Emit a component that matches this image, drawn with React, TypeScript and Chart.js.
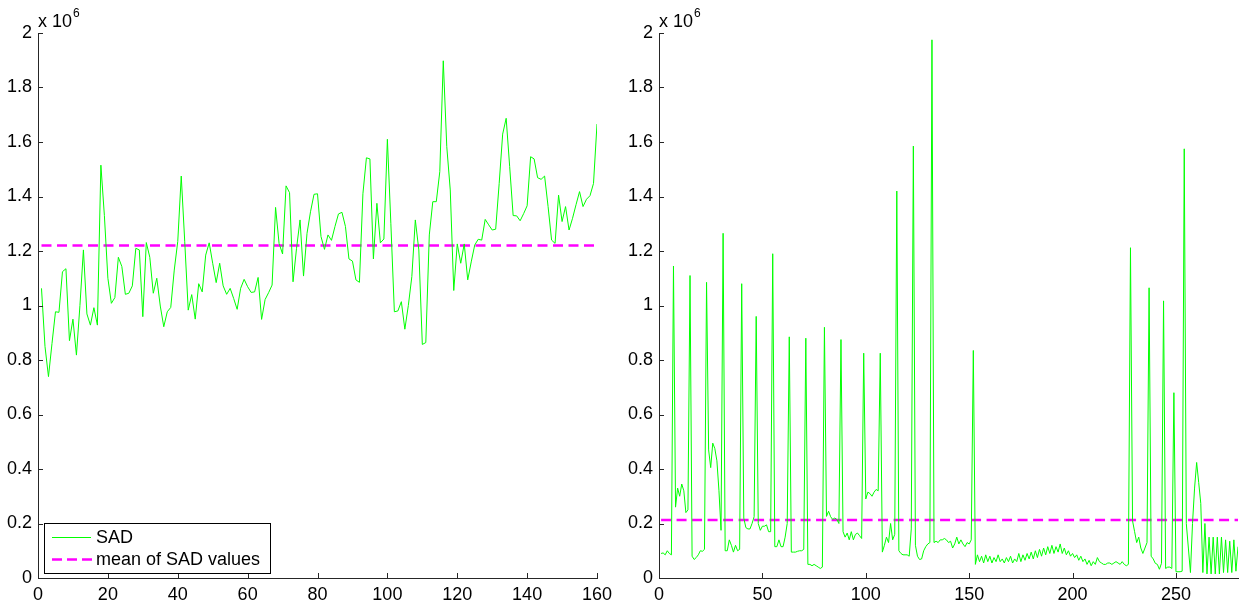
import React, { useEffect, useRef } from 'react';
import { Chart, registerables } from 'chart.js';

Chart.register(...registerables);

// ---------- data (values in units of 10^6) ----------
const sadLeft: number[] = [
  1.063, 0.85, 0.739, 0.86, 0.977, 0.975, 1.124, 1.135, 0.871, 0.95,
  0.818, 1.0, 1.204, 0.969, 0.928, 0.992, 0.928, 1.515, 1.33, 1.1,
  1.008, 1.029, 1.177, 1.143, 1.041, 1.045, 1.072, 1.21, 1.204, 0.959,
  1.231, 1.177, 1.045, 1.1, 0.998, 0.922, 0.977, 0.993, 1.13, 1.235,
  1.475, 1.234, 0.983, 1.04, 0.95, 1.08, 1.05, 1.185, 1.23, 1.155,
  1.084, 1.155, 1.072, 1.041, 1.063, 1.026, 0.986, 1.063, 1.096, 1.069,
  1.048, 1.05, 1.103, 0.949, 1.022, 1.047, 1.075, 1.36, 1.228, 1.189,
  1.439, 1.414, 1.087, 1.21, 1.314, 1.108, 1.265, 1.344, 1.408, 1.41,
  1.253, 1.206, 1.259, 1.239, 1.29, 1.336, 1.342, 1.29, 1.171, 1.163,
  1.094, 1.085, 1.41, 1.542, 1.538, 1.171, 1.375, 1.23, 1.244, 1.61,
  1.3, 0.977, 0.98, 1.014, 0.913, 1.0, 1.106, 1.314, 1.204, 0.857,
  0.864, 1.259, 1.381, 1.381, 1.491, 1.898, 1.583, 1.424, 1.055, 1.226,
  1.155, 1.226, 1.094, 1.16, 1.222, 1.243, 1.24, 1.316, 1.296, 1.277,
  1.28, 1.448, 1.629, 1.687, 1.51, 1.33, 1.329, 1.311, 1.337, 1.366,
  1.546, 1.538, 1.469, 1.463, 1.475, 1.363, 1.24, 1.228, 1.405, 1.308,
  1.363, 1.277, 1.32, 1.37, 1.418, 1.363, 1.39, 1.403, 1.448, 1.666,
];

const sadRight: number[] = [
  // 1-10
  0.09, 0.092, 0.085, 0.1, 0.09, 0.085, 1.145, 0.26, 0.33, 0.3,
  // 11-20
  0.345, 0.32, 0.24, 0.25, 1.11, 0.08, 0.068, 0.075, 0.085, 0.1,
  // 21-30
  0.098, 0.105, 1.085, 0.47, 0.405, 0.495, 0.475, 0.43, 0.32, 0.175,
  // 31-40
  1.265, 0.1, 0.1, 0.14, 0.12, 0.095, 0.12, 0.1, 0.105, 1.08,
  // 41-50
  0.22, 0.185, 0.18, 0.18, 0.2, 0.225, 0.96, 0.2, 0.175, 0.19,
  // 51-60
  0.19, 0.195, 0.17, 0.17, 1.19, 0.115, 0.115, 0.14, 0.115, 0.115,
  // 61-70
  0.15, 0.2, 0.885, 0.095, 0.095, 0.095, 0.098, 0.1, 0.1, 0.105,
  // 71-80
  0.88, 0.05, 0.05, 0.045, 0.05, 0.045, 0.04, 0.035, 0.04, 0.92,
  // 81-90
  0.226, 0.245, 0.225, 0.215, 0.22, 0.215, 0.2, 0.875, 0.17, 0.15,
  // 91-100
  0.165, 0.14, 0.17, 0.14, 0.16, 0.165, 0.155, 0.145, 0.825, 0.29,
  // 101-110
  0.315, 0.31, 0.3, 0.315, 0.325, 0.32, 0.825, 0.095, 0.12, 0.15,
  // 111-120
  0.13, 0.2, 0.14, 0.16, 1.42, 0.1, 0.09, 0.085, 0.085, 0.085,
  // 121-130
  0.08, 0.18, 1.585, 0.12, 0.08, 0.068, 0.07, 0.1, 0.115, 0.125,
  // 131-140
  0.13, 1.975, 0.13, 0.135, 0.13, 0.14, 0.14, 0.145, 0.14, 0.13,
  // 141-150
  0.135, 0.11, 0.125, 0.15, 0.125, 0.14, 0.125, 0.115, 0.13, 0.125,
  // 151-160
  0.14, 0.835, 0.05, 0.085, 0.06, 0.08, 0.055, 0.085, 0.06, 0.08,
  // 161-170
  0.055, 0.075, 0.06, 0.085, 0.06, 0.07, 0.055, 0.075, 0.06, 0.08,
  // 171-180
  0.055, 0.07, 0.06, 0.09, 0.06, 0.085, 0.065, 0.09, 0.07, 0.095,
  // 181-190
  0.07, 0.1, 0.075, 0.105, 0.08, 0.11, 0.085, 0.115, 0.09, 0.12,
  // 191-200
  0.09, 0.115, 0.095, 0.125, 0.09, 0.11, 0.085, 0.1, 0.08, 0.09,
  // 201-210
  0.075, 0.085, 0.065, 0.08, 0.06, 0.07, 0.05, 0.065, 0.045, 0.06,
  // 211-220
  0.05, 0.075, 0.06, 0.055, 0.05, 0.05, 0.055, 0.055, 0.05, 0.055,
  // 221-230
  0.06, 0.055, 0.05, 0.06, 0.05, 0.045, 0.05, 1.212, 0.21, 0.17,
  // 231-240
  0.13, 0.15, 0.11, 0.09, 0.11, 0.13, 1.065, 0.08, 0.07, 0.054,
  // 241-250
  0.05, 0.032, 0.054, 1.017, 0.035, 0.04, 0.04, 0.035, 0.68, 0.023,
  // 251-260
  0.023, 0.023, 0.025, 1.575, 0.2, 0.11, 0.02, 0.2, 0.33, 0.424,
  // 261-270
  0.35, 0.274, 0.02, 0.2, 0.015, 0.15, 0.015, 0.15, 0.015, 0.15,
  // 271-280
  0.015, 0.15, 0.02, 0.14, 0.02, 0.135, 0.02, 0.14, 0.025, 0.115,
];

const meanLeft = 1.22;
const meanRight = 0.213;

const yTicks: number[] = [0, 0.2, 0.4, 0.6, 0.8, 1, 1.2, 1.4, 1.6, 1.8, 2];
const xTicksLeft: number[] = [0, 20, 40, 60, 80, 100, 120, 140, 160];
const xTicksRight: number[] = [0, 50, 100, 150, 200, 250];

const seriesLabel = 'SAD';
const meanLabel = 'mean of SAD values';
const exponentBase = 'x 10';
const exponentPower = '6';

// ---------- styling ----------
const FONT = '"Liberation Sans", Arial, Helvetica, sans-serif';
const GREEN = '#00ff00';
const MAGENTA = '#ff00ff';
const AXIS = '#262626';
const DASH = [10, 5.5];

type PanelCfg = {
  values: number[];
  mean: number;
  xMax: number;
  xTicks: number[];
  yWidth: number;
  padRight: number;
  legend: boolean;
};

const panelPlugin = {
  id: 'matlabDecor',
  afterDraw(chart: any, _args: any, opts: any) {
    const ctx = chart.ctx as CanvasRenderingContext2D;
    const { left, bottom, top } = chart.chartArea;
    const xs = chart.scales.x;
    const ys = chart.scales.y;
    ctx.save();
    // inward tick marks
    ctx.strokeStyle = AXIS;
    ctx.lineWidth = 1;
    ctx.beginPath();
    xs.ticks.forEach((t: any) => {
      const px = Math.round(xs.getPixelForValue(t.value)) + 0.5;
      ctx.moveTo(px, bottom);
      ctx.lineTo(px, bottom - 5);
    });
    ys.ticks.forEach((t: any) => {
      const py = Math.round(ys.getPixelForValue(t.value)) + 0.5;
      ctx.moveTo(left, py);
      ctx.lineTo(left + 5, py);
    });
    ctx.stroke();

    // exponent label
    ctx.fillStyle = '#000';
    ctx.textBaseline = 'alphabetic';
    ctx.textAlign = 'left';
    ctx.font = `18px ${FONT}`;
    ctx.fillText(exponentBase, left, top - 6);
    const w = ctx.measureText(exponentBase).width;
    ctx.font = `12px ${FONT}`;
    ctx.fillText(exponentPower, left + w + 1, top - 16);

    // legend
    if (opts && opts.legend) {
      const bx = 44.5, by = 523.5, bw = 226, bh = 50;
      ctx.fillStyle = '#fff';
      ctx.fillRect(bx, by, bw, bh);
      ctx.strokeStyle = '#000';
      ctx.lineWidth = 1;
      ctx.strokeRect(bx, by, bw, bh);
      // SAD entry
      ctx.strokeStyle = GREEN;
      ctx.lineWidth = 1;
      ctx.beginPath();
      ctx.moveTo(52, 537.5);
      ctx.lineTo(91, 537.5);
      ctx.stroke();
      // mean entry
      ctx.strokeStyle = MAGENTA;
      ctx.lineWidth = 2.5;
      ctx.setLineDash([10, 5]);
      ctx.beginPath();
      ctx.moveTo(52, 559.5);
      ctx.lineTo(92, 559.5);
      ctx.stroke();
      ctx.setLineDash([]);
      ctx.fillStyle = '#000';
      ctx.font = `18px ${FONT}`;
      ctx.textBaseline = 'middle';
      ctx.fillText(seriesLabel, 96, 538);
      ctx.fillText(meanLabel, 96, 560);
    }
    ctx.restore();
  },
};

function buildConfig(p: PanelCfg): any {
  const n = p.values.length;
  return {
    type: 'line',
    data: {
      datasets: [
        {
          label: seriesLabel,
          data: p.values.map((v, i) => ({ x: i + 1, y: v })),
          borderColor: GREEN,
          borderWidth: 1,
          pointRadius: 0,
          fill: false,
          tension: 0,
        },
        {
          label: meanLabel,
          data: [
            { x: 1, y: p.mean },
            { x: n, y: p.mean },
          ],
          borderColor: MAGENTA,
          borderWidth: 2.5,
          borderDash: DASH,
          pointRadius: 0,
          fill: false,
        },
      ],
    },
    options: {
      animation: false,
      responsive: false,
      devicePixelRatio: 1,
      layout: { padding: { top: 33, right: p.padRight, left: 0, bottom: 0 } },
      plugins: {
        legend: { display: false },
        tooltip: { enabled: false },
        matlabDecor: { legend: p.legend },
      },
      scales: {
        x: {
          type: 'linear',
          min: 0,
          max: p.xMax,
          grid: { display: false, drawTicks: false },
          border: { display: true, color: AXIS, width: 1 },
          ticks: {
            color: '#000',
            font: { family: FONT, size: 18 },
            padding: 6,
            maxRotation: 0,
            autoSkip: false,
            callback: (v: number) => String(v),
          },
          afterBuildTicks: (s: any) => {
            s.ticks = p.xTicks.map((v) => ({ value: v }));
          },
          afterFit: (s: any) => {
            s.height = 24;
          },
        },
        y: {
          type: 'linear',
          min: 0,
          max: 2,
          grid: { display: false, drawTicks: false },
          border: { display: true, color: AXIS, width: 1 },
          ticks: {
            color: '#000',
            font: { family: FONT, size: 18 },
            padding: 6,
            autoSkip: false,
            callback: (v: number) => String(Math.round(v * 10) / 10),
          },
          afterBuildTicks: (s: any) => {
            s.ticks = yTicks.map((v) => ({ value: v }));
          },
          afterFit: (s: any) => {
            s.width = p.yWidth;
          },
        },
      },
    },
    plugins: [panelPlugin],
  };
}

function Panel({ cfg, left, width }: { cfg: PanelCfg; left: number; width: number }) {
  const ref = useRef<HTMLCanvasElement | null>(null);
  useEffect(() => {
    if (!ref.current) return;
    const chart = new Chart(ref.current, buildConfig(cfg));
    return () => chart.destroy();
  }, []);
  return (
    <canvas
      ref={ref}
      width={width}
      height={602}
      style={{ position: 'absolute', left, top: 0, width, height: 602 }}
    />
  );
}

export default function App() {
  const leftCfg: PanelCfg = {
    values: sadLeft,
    mean: meanLeft,
    xMax: 160,
    xTicks: xTicksLeft,
    yWidth: 38,
    padRight: 23,
    legend: true,
  };
  const rightCfg: PanelCfg = {
    values: sadRight,
    mean: meanRight,
    xMax: 280,
    xTicks: xTicksRight,
    yWidth: 39,
    padRight: 5,
    legend: false,
  };
  return (
    <div
      style={{
        position: 'absolute',
        left: 0,
        top: 0,
        width: 1243,
        height: 602,
        background: '#fff',
        overflow: 'hidden',
      }}
    >
      <Panel cfg={leftCfg} left={0} width={620} />
      <Panel cfg={rightCfg} left={620} width={623} />
    </div>
  );
}
